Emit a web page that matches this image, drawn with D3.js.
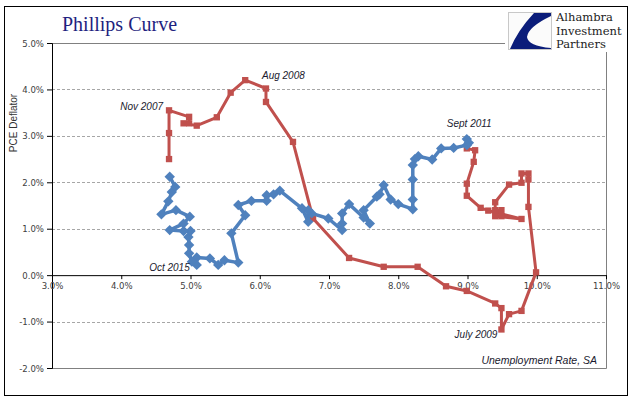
<!DOCTYPE html>
<html>
<head>
<meta charset="utf-8">
<script src="https://cdn.jsdelivr.net/npm/d3@7"></script>
<style>
  html, body { margin: 0; padding: 0; background: #fff; }
  svg { display: block; }
</style>
</head>
<body>
<svg id="chart" width="641" height="401"></svg>
<script>
// ---- data (unemployment rate %, PCE deflator % y/y) ----
const redUnemp = [4.69,4.69,4.69,4.98,4.98,4.90,5.09,5.38,5.58,5.79,6.09,6.09,6.48,6.77,7.29,7.79,8.28,8.69,8.99,9.40,9.49,9.49,9.60,9.78,9.99,9.88,9.88,9.88,9.78,9.78,9.60,9.40,9.40,9.49,9.49,9.40,9.78,9.30,9.19,8.99,8.99,9.09,9.11,8.99];
const redPce   = [2.50,3.06,3.55,3.41,3.27,3.27,3.22,3.40,3.93,4.20,4.02,3.73,2.87,1.22,0.37,0.18,0.18,-0.24,-0.34,-0.61,-0.71,-1.17,-0.84,-0.77,0.06,1.47,2.06,2.19,2.19,1.99,1.95,1.57,1.40,1.40,1.27,1.27,1.21,1.39,1.45,1.71,1.97,2.44,2.69,2.73];
const blueUnemp = [8.99,9.02,8.99,8.80,8.62,8.49,8.29,8.24,8.21,8.21,8.21,8.21,8.00,7.89,7.79,7.73,7.69,7.50,7.59,7.50,7.29,7.19,7.19,7.19,6.99,6.75,6.70,6.70,6.61,6.29,6.20,6.10,6.10,5.88,5.69,5.79,5.59,5.69,5.49,5.40,5.28,5.09,5.09,5.02,4.98,4.98,4.97,5.00,4.90,4.70,4.90,4.99,4.79,4.58,4.68,4.73,4.78,4.70];
const bluePce   = [2.93,2.85,2.80,2.74,2.73,2.49,2.56,2.50,2.37,2.06,1.63,1.42,1.53,1.63,1.94,1.74,1.69,1.40,1.11,1.24,1.53,1.33,1.11,0.97,1.22,1.33,1.40,1.15,1.44,1.82,1.74,1.72,1.60,1.60,1.51,1.29,0.90,0.27,0.32,0.22,0.36,0.38,0.22,0.29,0.47,0.65,0.82,0.95,0.95,0.97,1.11,1.26,1.40,1.31,1.59,1.79,1.90,2.12];
const xTicks = [3,4,5,6,7,8,9,10,11];
const yTicks = [-2,-1,0,1,2,3,4,5];
const annotations = [
  {text: "Nov 2007", u: 4.69, p: 3.55},
  {text: "Aug 2008", u: 6.09, p: 4.02},
  {text: "July 2009", u: 9.49, p: -1.17},
  {text: "Sept 2011", u: 8.99, p: 2.93},
  {text: "Oct 2015", u: 5.09, p: 0.22}
];

const svg = d3.select("#chart");
const x = d3.scaleLinear().domain([3, 11]).range([52, 606]);
const y = d3.scaleLinear().domain([-2, 5]).range([368, 43]);
const fmt = d => d.toFixed(1) + "%";

// outer frame
svg.append("rect").attr("x", 4.5).attr("y", 6.5).attr("width", 623).attr("height", 389)
  .attr("fill", "#fff").attr("stroke", "#000").attr("stroke-width", 1);

// grid lines
svg.append("g").selectAll("line").data(yTicks.filter(v => v !== 0 && v !== 5 && v !== -2)).join("line")
  .attr("x1", x(3)).attr("x2", x(11))
  .attr("y1", d => Math.round(y(d)) + 0.5).attr("y2", d => Math.round(y(d)) + 0.5)
  .attr("stroke", "#a6a6a6").attr("stroke-dasharray", "3,2").attr("stroke-width", 1);

// plot border (top, right, bottom)
svg.append("path")
  .attr("d", `M${x(3)},${Math.round(y(5))+0.5} H${Math.round(x(11))+0.5} V${Math.round(y(-2))+0.5} H${x(3)}`)
  .attr("fill", "none").attr("stroke", "#808080").attr("stroke-width", 1);

// y axis
const yAxis = svg.append("g").attr("transform", `translate(${x(3)},0)`)
  .call(d3.axisLeft(y).tickValues(yTicks).tickFormat(fmt).tickSize(5).tickPadding(3));
yAxis.select(".domain").attr("stroke", "#000");
yAxis.selectAll(".tick line").attr("stroke", "#000");
yAxis.selectAll("text").attr("font-family", "DejaVu Sans Condensed, DejaVu Sans, sans-serif").attr("font-size", 9.5).attr("fill", "#404040");

// x axis at y = 0
const xAxis = svg.append("g").attr("transform", `translate(0,${y(0)})`)
  .call(d3.axisBottom(x).tickValues(xTicks).tickFormat(fmt).tickSize(4).tickSizeOuter(0).tickPadding(3));
xAxis.select(".domain").attr("stroke", "#000");
xAxis.selectAll(".tick line").attr("stroke", "#000");
xAxis.selectAll("text").attr("font-family", "DejaVu Sans Condensed, DejaVu Sans, sans-serif").attr("font-size", 9.5).attr("fill", "#404040");

// axis titles
svg.append("text").attr("transform", "translate(17,123) rotate(-90)")
  .attr("text-anchor", "middle").attr("font-family", "Liberation Sans, Arial, sans-serif")
  .attr("font-size", 10).attr("fill", "#333").text("PCE Deflator");
svg.append("text").attr("x", 597).attr("y", 364).attr("text-anchor", "end")
  .attr("font-family", "Liberation Sans, Arial, sans-serif").attr("font-style", "italic")
  .attr("font-size", 10.5).attr("fill", "#1a1a2e").text("Unemployment Rate, SA");

// series
const redData = redUnemp.map((u, i) => ({u, p: redPce[i]}));
const blueData = blueUnemp.map((u, i) => ({u, p: bluePce[i]}));
const line = d3.line().x(d => x(d.u)).y(d => y(d.p));

svg.append("path").datum(redData).attr("d", line)
  .attr("fill", "none").attr("stroke", "#C0504D").attr("stroke-width", 3).attr("stroke-linejoin", "round");
svg.append("g").selectAll("path").data(redData).join("path")
  .attr("transform", d => `translate(${x(d.u)},${y(d.p)})`)
  .attr("d", d3.symbol(d3.symbolSquare, 40)).attr("fill", "#C0504D");

svg.append("path").datum(blueData).attr("d", line)
  .attr("fill", "none").attr("stroke", "#4F81BD").attr("stroke-width", 3.5).attr("stroke-linejoin", "round");
svg.append("g").selectAll("path").data(blueData).join("path")
  .attr("transform", d => `translate(${x(d.u)},${y(d.p)}) rotate(45)`)
  .attr("d", d3.symbol(d3.symbolSquare, 54)).attr("fill", "#4F81BD");

// annotations
const annoOffsets = {"Nov 2007": [-6, 0, "end"], "Aug 2008": [-4, -10, "start"], "July 2009": [-4, 9, "end"], "Sept 2011": [-20, -12, "start"], "Oct 2015": [-7, 6, "end"]};
svg.append("g").selectAll("text").data(annotations).join("text")
  .attr("x", d => x(d.u) + annoOffsets[d.text][0])
  .attr("y", d => y(d.p) + annoOffsets[d.text][1])
  .attr("text-anchor", d => annoOffsets[d.text][2])
  .attr("font-family", "Liberation Sans, Arial, sans-serif").attr("font-style", "italic")
  .attr("font-size", 10).attr("fill", "#1a1a2e").text(d => d.text);

// title
svg.append("text").attr("x", 62).attr("y", 31)
  .attr("font-family", "Liberation Serif, Times New Roman, serif").attr("font-size", 20)
  .attr("fill", "#1f1f80").text("Phillips Curve");

// logo
const logo = svg.append("g");
logo.append("rect").attr("x", 505).attr("y", 8).attr("width", 122).attr("height", 44).attr("fill", "#fff");
logo.append("rect").attr("x", 508.5).attr("y", 12.5).attr("width", 43).attr("height", 37)
  .attr("fill", "#fbfbfb").attr("stroke", "#c8c8c8");
logo.append("path")
  .attr("d", "M534,13 L551,13 L551,16 Q528,27 527,37 Q528,46 551,48 L551,49 L510,49 Q518,30 534,13 Z")
  .attr("fill", "#0b1d7a");
logo.selectAll("text.l").data(["Alhambra", "Investment", "Partners"]).join("text")
  .attr("x", 556).attr("y", (d, i) => 21 + i * 13.5)
  .attr("font-family", "DejaVu Serif, serif").attr("font-size", 11.5)
  .attr("fill", "#222").text(d => d);
</script>
</body>
</html>
